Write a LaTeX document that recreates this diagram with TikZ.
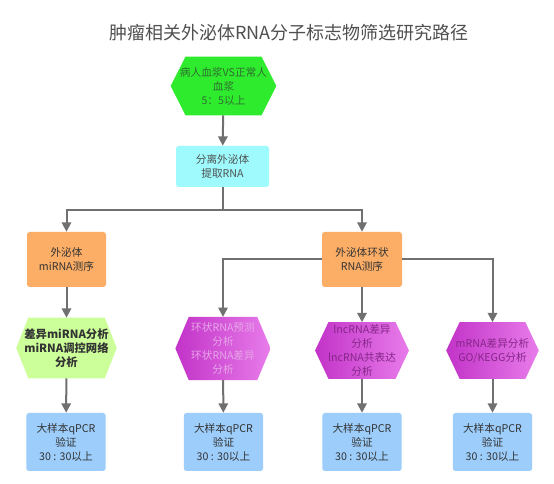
\documentclass[tikz,border=0pt]{standalone}
\usepackage{fontspec}
\setmainfont{Noto Sans CJK SC}
\usetikzlibrary{arrows.meta,backgrounds,calc}
\definecolor{linegray}{HTML}{707070}
\definecolor{titlegray}{HTML}{505050}
\definecolor{hexgreen}{HTML}{2EEB2E}
\definecolor{hexgreentext}{HTML}{2F6E2F}
\definecolor{cyanbox}{HTML}{9EFAFC}
\definecolor{orangebox}{HTML}{FDAE66}
\definecolor{lightgreen}{HTML}{CCFF99}
\definecolor{magleft}{HTML}{C233C8}
\definecolor{magright}{HTML}{E87CEA}
\definecolor{magtextlight}{HTML}{E6A6E8}
\definecolor{magtextdark}{HTML}{86268A}
\definecolor{bluebox}{HTML}{9DCDFB}
\definecolor{darktext}{HTML}{333333}
\newcommand{\hexfill}[3]{%
  \path[#3] (#1.west) -- ([xshift=#2]#1.north west) -- ([xshift=-#2]#1.north east)
    -- (#1.east) -- ([xshift=-#2]#1.south east) -- ([xshift=#2]#1.south west) -- cycle;}
\begin{document}
\begin{tikzpicture}[x=0.75pt,y=-0.75pt,
  txt/.style={align=center, inner sep=0pt, font=\fontsize{8}{10.5}\selectfont, text=darktext},
  boxnode/.style={txt, rectangle, rounded corners=2pt},
  hexnode/.style={txt, rectangle},
  conn/.style={draw=linegray, line width=1.5pt, -{Triangle[width=7pt,length=7pt]}},
  plain/.style={draw=linegray, line width=1.5pt}]
\useasboundingbox (0,0) rectangle (554,484);

\node[font=\fontsize{13.5}{16}\selectfont, text=titlegray] (title) at (289,33) {肿瘤相关外泌体RNA分子标志物筛选研究路径};

\node[hexnode, minimum width=78.75pt, minimum height=43.5pt, text=hexgreentext] (g) at (223.5,86) {病人血浆VS正常人\\血浆\\5：5以上};
\node[boxnode, fill=cyanbox, minimum width=69.75pt, minimum height=30.75pt, text=titlegray] (c) at (222.5,166.5) {分离外泌体\\提取RNA};

\node[boxnode, fill=orangebox, minimum width=59.25pt, minimum height=41.25pt] (o1) at (66.5,259.5) {外泌体\\miRNA测序};
\node[boxnode, fill=orangebox, minimum width=60pt, minimum height=41.25pt] (o2) at (362,259.5) {外泌体环状\\RNA测序};

\node[hexnode, minimum width=75pt, minimum height=45pt, font=\fontsize{8.5}{10.5}\selectfont\bfseries] (h1) at (66.5,348) {差异miRNA分析\\miRNA调控网络\\分析};
\node[hexnode, minimum width=71pt, minimum height=47pt, text=magtextlight] (h2) at (223,348.5) {环状RNA预测\\分析\\环状RNA差异\\分析};
\node[hexnode, minimum width=70pt, minimum height=42pt, text=magtextdark] (h3) at (362,350.5) {lncRNA差异\\分析\\lncRNA共表达\\分析};
\node[hexnode, minimum width=69pt, minimum height=42pt, text=magtextdark] (h4) at (492.5,350.5) {mRNA差异分析\\GO/KEGG分析};

\node[boxnode, fill=bluebox, minimum width=59.5pt, minimum height=43.5pt] (b1) at (66,442) {大样本qPCR\\验证\\30 : 30以上};
\node[boxnode, fill=bluebox, minimum width=59.5pt, minimum height=43.5pt] (b2) at (223.5,442) {大样本qPCR\\验证\\30 : 30以上};
\node[boxnode, fill=bluebox, minimum width=59.5pt, minimum height=43.5pt] (b3) at (362,442) {大样本qPCR\\验证\\30 : 30以上};
\node[boxnode, fill=bluebox, minimum width=59.5pt, minimum height=43.5pt] (b4) at (492.5,442) {大样本qPCR\\验证\\30 : 30以上};

\begin{scope}[on background layer]
  \fill[white] (0,0) rectangle (554,484);
  \hexfill{g}{11pt}{fill=hexgreen}
  \hexfill{h1}{9pt}{fill=lightgreen}
  \hexfill{h2}{10pt}{left color=magleft, right color=magright}
  \hexfill{h3}{10pt}{left color=magleft, right color=magright}
  \hexfill{h4}{10pt}{left color=magleft, right color=magright}
\end{scope}

\coordinate (j1) at (222.5,210);
\draw[conn] (g) -- (c);
\draw[plain] (c.south) -- (j1);
\draw[conn] (j1) -| (o1.north);
\draw[conn] (j1) -| (o2.north);
\draw[conn] (o1) -- (h1);
\draw[conn] (o2.west) -| (h2.north);
\draw[conn] (o2) -- (h3);
\draw[conn] (o2.east) -| (h4.north);
\draw[conn] (h1) -- (b1);
\draw[conn] (h2) -- (b2);
\draw[conn] (h3) -- (b3);
\draw[conn] (h4) -- (b4);
\end{tikzpicture}
\end{document}
